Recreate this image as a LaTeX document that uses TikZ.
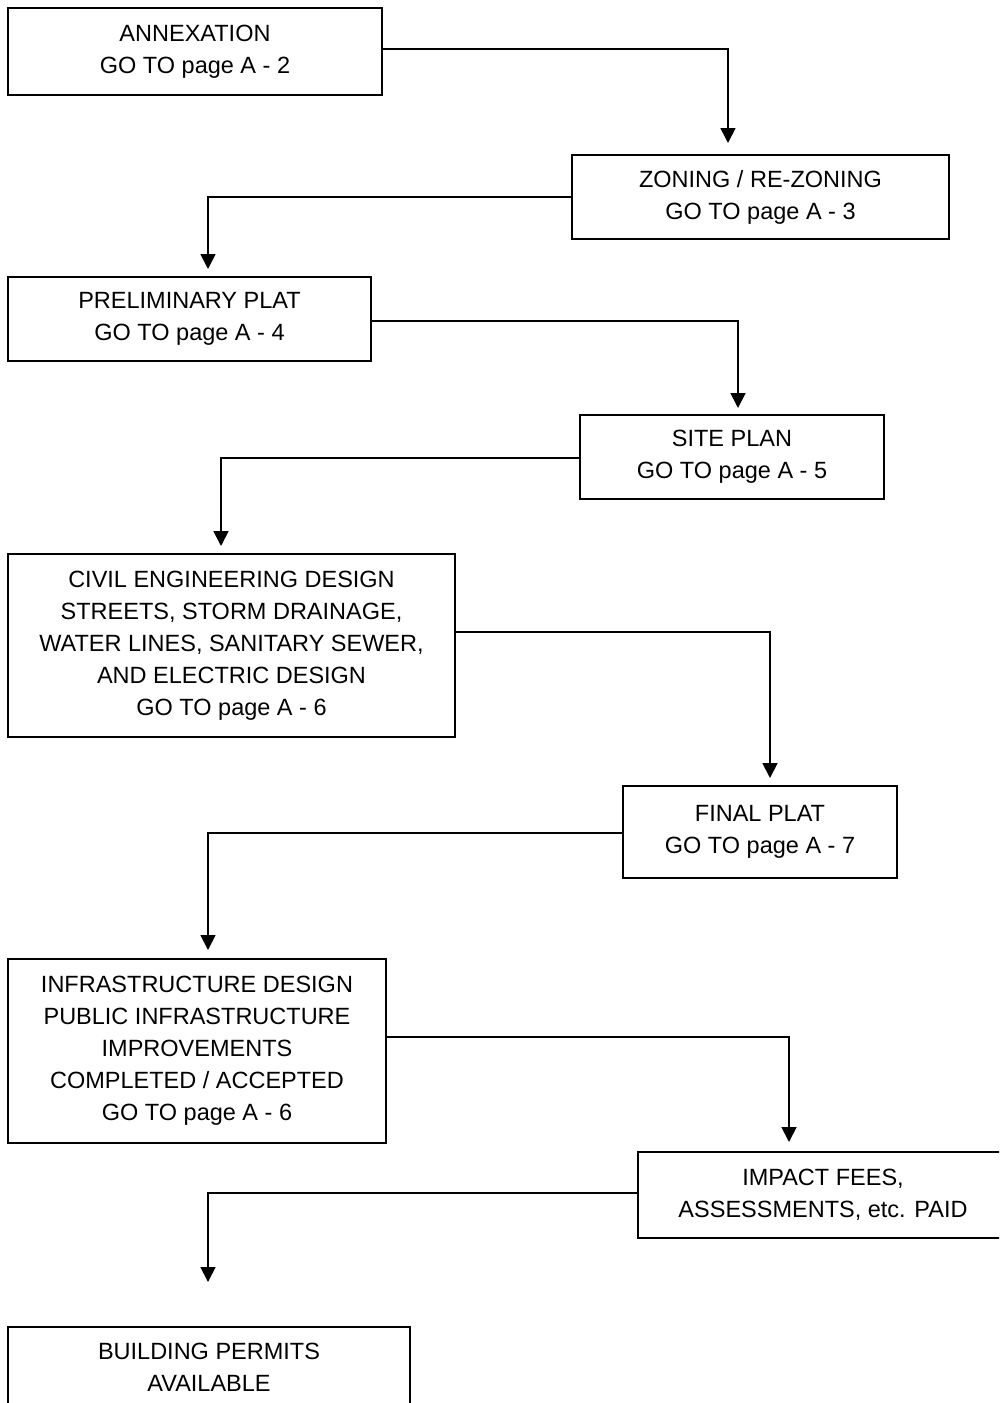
\documentclass[tikz,border=0pt]{standalone}
\usepackage{fontspec}
\setmainfont{Liberation Sans}
\usetikzlibrary{arrows.meta}
\tikzset{
  stepbox/.style={draw, line width=2pt, inner sep=0pt, align=center,
    font=\fontsize{23.5}{32}\selectfont},
  conn/.style={line width=1.8pt, -{Triangle[width=15pt,length=15pt]}}
}
\begin{document}
\begin{tikzpicture}[x=1pt,y=-1pt]
\useasboundingbox (0,0) rectangle (999,1403);
\fill[white] (0,0) rectangle (999,1403);
\clip (0,0) rectangle (999,1403);

\node[stepbox, minimum width=374pt, minimum height=87pt] (ann) at (195,51.5) {ANNEXATION\\GO TO page A - 2};
\node[stepbox, minimum width=377pt, minimum height=84pt] (zon) at (760.5,197) {ZONING / RE-ZONING\\GO TO page A - 3};
\node[stepbox, minimum width=363pt, minimum height=84pt] (pre) at (189.5,319) {PRELIMINARY PLAT\\GO TO page A - 4};
\node[stepbox, minimum width=304pt, minimum height=84pt] (site) at (732,457) {SITE PLAN\\GO TO page A - 5};
\node[stepbox, minimum width=447pt, minimum height=183pt] (civ) at (231.5,645.5) {CIVIL ENGINEERING DESIGN\\STREETS, STORM DRAINAGE,\\WATER LINES, SANITARY SEWER,\\AND ELECTRIC DESIGN\\GO TO page A - 6};
\node[stepbox, minimum width=274pt, minimum height=92pt] (fin) at (760,832) {FINAL PLAT\\GO TO page A - 7};
\node[stepbox, minimum width=378pt, minimum height=184pt] (inf) at (197,1051) {INFRASTRUCTURE DESIGN\\PUBLIC INFRASTRUCTURE\\IMPROVEMENTS\\COMPLETED / ACCEPTED\\GO TO page A - 6};
\node[stepbox, minimum width=370pt, minimum height=86pt] (imp) at (823,1195) {IMPACT FEES,\\ASSESSMENTS, etc. PAID};
\node[stepbox, minimum width=402pt, minimum height=80pt] (bld) at (209,1367) {BUILDING PERMITS\\AVAILABLE};

\coordinate (t1) at (728,143);
\coordinate (t2) at (208,269);
\coordinate (t3) at (738,408);
\coordinate (t4) at (221,546);
\coordinate (t5) at (770,778);
\coordinate (t6) at (208,950);
\coordinate (t7) at (789,1142);
\coordinate (t8) at (208,1282);

\draw[conn] ([yshift=2.5pt]ann.east) -| (t1);
\draw[conn] (zon.west) -| (t2);
\draw[conn] ([yshift=-2pt]pre.east) -| (t3);
\draw[conn] ([yshift=-1pt]site.west) -| (t4);
\draw[conn] ([yshift=13.5pt]civ.east) -| (t5);
\draw[conn] ([yshift=-1pt]fin.west) -| (t6);
\draw[conn] ([yshift=14pt]inf.east) -| (t7);
\draw[conn] ([yshift=2pt]imp.west) -| (t8);
\end{tikzpicture}
\end{document}
